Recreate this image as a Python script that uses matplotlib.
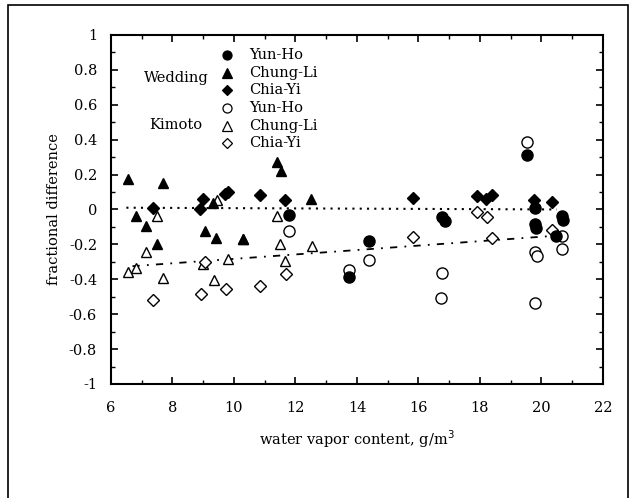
import matplotlib
matplotlib.use("Agg")
import matplotlib.pyplot as plt
from matplotlib.patches import Rectangle
from matplotlib.ticker import MultipleLocator

plt.rcParams["font.family"] = "DejaVu Serif"

# Wedding model, filled markers
wed_yunho_x = [11.8, 19.52, 14.4, 13.75, 16.75, 16.85, 19.8, 19.8, 19.82, 20.47, 20.68, 20.69]
wed_yunho_y = [-0.034, 0.31, -0.178, -0.386, -0.045, -0.065, 0.006, -0.086, -0.105, -0.153, -0.038, -0.063]
wed_chungli_x = [6.56, 7.68, 6.81, 7.14, 7.49, 9.06, 9.41, 10.3, 11.39, 11.53, 12.5, 9.33]
wed_chungli_y = [0.176, 0.149, -0.038, -0.092, -0.197, -0.124, -0.166, -0.172, 0.271, 0.223, 0.061, 0.035]
wed_chiayi_x = [7.38, 9.0, 8.91, 9.71, 9.82, 10.85, 11.66, 15.81, 17.89, 18.18, 18.38, 19.77, 20.33]
wed_chiayi_y = [0.01, 0.061, 0.0, 0.086, 0.099, 0.08, 0.052, 0.065, 0.076, 0.061, 0.084, 0.057, 0.044]

# Kimoto model, open markers
kim_yunho_x = [11.8, 19.54, 14.4, 13.75, 16.78, 16.72, 19.8, 19.84, 19.8, 20.68, 20.67]
kim_yunho_y = [-0.124, 0.385, -0.287, -0.348, -0.363, -0.506, -0.243, -0.264, -0.535, -0.153, -0.224]
kim_chungli_x = [7.49, 7.14, 6.56, 6.81, 7.68, 9.0, 9.35, 9.82, 10.3, 11.41, 11.5, 11.66, 12.53, 9.45]
kim_chungli_y = [-0.038, -0.243, -0.359, -0.338, -0.392, -0.315, -0.405, -0.283, -0.17, -0.038, -0.197, -0.296, -0.21, 0.057]
kim_chiayi_x = [7.38, 8.92, 9.73, 10.85, 11.68, 9.05, 15.81, 17.91, 18.22, 18.4, 20.33]
kim_chiayi_y = [-0.516, -0.487, -0.458, -0.436, -0.369, -0.30, -0.159, -0.013, -0.042, -0.164, -0.119]

# fitted lines (end points)
fit_x = [6.5, 20.5]
fit_wedding = [0.01, 0.0]
fit_kimoto_x = [6.7, 20.5]
fit_kimoto = [-0.325, -0.15]

fig = plt.figure(figsize=(6.36, 4.98), dpi=100)
ax = fig.add_axes([0.1745, 0.229, 0.7736, 0.7008])

ax.plot(fit_x, fit_wedding, color="black", lw=1.5, linestyle=(0, (1, 2.5)))
ax.plot(fit_kimoto_x, fit_kimoto, color="black", lw=1.3, linestyle=(0, (4, 4, 1, 4)))

ms = 8
series = [
    (kim_yunho_x, kim_yunho_y, "o", "white", ms),
    (kim_chungli_x, kim_chungli_y, "^", "white", ms - 0.5),
    (kim_chiayi_x, kim_chiayi_y, "D", "white", ms - 1.8),
    (wed_yunho_x, wed_yunho_y, "o", "black", ms),
    (wed_chungli_x, wed_chungli_y, "^", "black", ms - 0.5),
    (wed_chiayi_x, wed_chiayi_y, "D", "black", ms - 2),
]
for xs, ys, mk, fc, size in series:
    ax.plot(xs, ys, linestyle="none", marker=mk, markersize=size,
            markerfacecolor=fc, markeredgecolor="black", markeredgewidth=1.0)

ax.set_xlim(6, 22)
ax.set_ylim(-1, 1)
ax.xaxis.set_major_locator(MultipleLocator(2))
ax.xaxis.set_minor_locator(MultipleLocator(1))
ax.yaxis.set_major_locator(MultipleLocator(0.2))
ax.yaxis.set_minor_locator(MultipleLocator(0.1))
ax.yaxis.set_major_formatter(plt.FuncFormatter(lambda v, p: "0" if abs(v) < 1e-9 else ("%g" % round(v, 1))))
ax.tick_params(which="both", direction="in", top=True, right=True, labelsize=10.5)
ax.tick_params(which="major", length=5, width=1.2, pad=10)
ax.tick_params(axis="x", which="major", pad=12)
ax.tick_params(which="minor", length=3, width=1.0)
for sp in ax.spines.values():
    sp.set_linewidth(1.5)

ax.set_xlabel("water vapor content, g/m$^3$", fontsize=10.5, labelpad=10)
ax.set_ylabel("fractional difference", fontsize=10.5, labelpad=6)

# legend drawn by hand
leg_names = ["Yun-Ho", "Chung-Li", "Chia-Yi", "Yun-Ho", "Chung-Li", "Chia-Yi"]
leg_marks = ["o", "^", "D", "o", "^", "D"]
leg_fill = ["black", "black", "black", "white", "white", "white"]
for i in range(6):
    yy = 0.943 - i * 0.0508
    ax.plot([0.236], [yy], transform=ax.transAxes, marker=leg_marks[i],
            markersize=6.5 if leg_marks[i] != "D" else 5, markerfacecolor=leg_fill[i],
            markeredgecolor="black", markeredgewidth=0.9, linestyle="none", clip_on=False)
    ax.text(0.28, yy, leg_names[i], transform=ax.transAxes, fontsize=10.5, va="center", ha="left")
ax.text(0.198, 0.878, "Wedding", transform=ax.transAxes, fontsize=10.5, va="center", ha="right")
ax.text(0.186, 0.742, "Kimoto", transform=ax.transAxes, fontsize=10.5, va="center", ha="right")

# outer frame around the figure
fig.patches.append(Rectangle((0.0126, -0.05), 0.9748, 1.04, transform=fig.transFigure,
                             fill=False, edgecolor="black", linewidth=1.2))

fig.savefig("out.png", dpi=100)
